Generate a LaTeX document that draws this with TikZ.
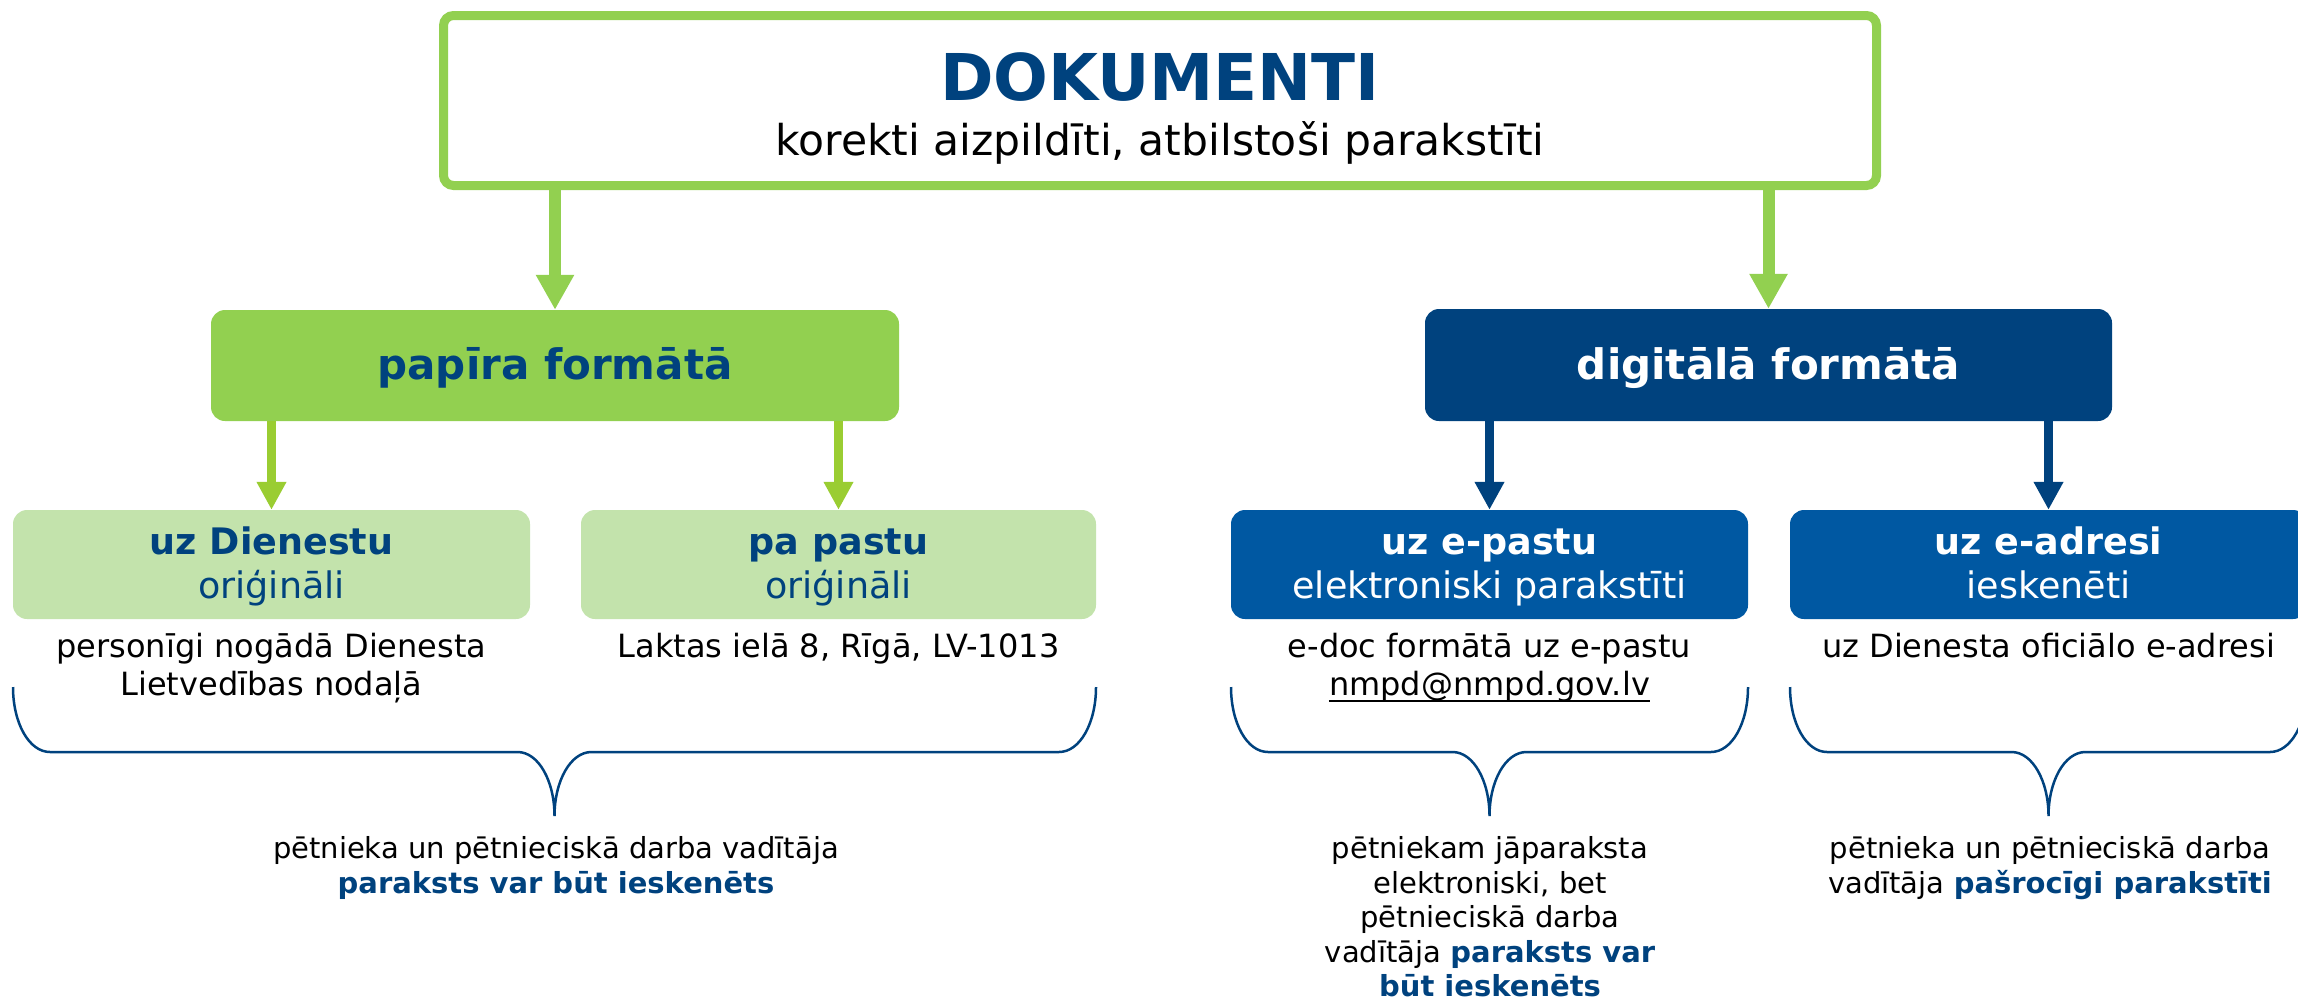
\documentclass[tikz,border=0pt]{standalone}
\usepackage{fontspec}
\setmainfont{DejaVu Sans}
\usetikzlibrary{arrows.meta}
\definecolor{dblue}{HTML}{00427E}
\definecolor{mblue}{HTML}{0058A2}
\definecolor{lgreen}{HTML}{92D050}
\definecolor{pgreen}{HTML}{C3E3AC}
\definecolor{agreen}{HTML}{9ACD32}
\newcommand{\curlyb}[2]{%
  \pgfmathsetmacro{\mx}{(#1+#2)/2}%
  \draw[brc] (#1,687) .. controls (#1,723) and ({#1+16},752) .. ({#1+37},752)
    -- ({\mx-37},752) .. controls ({\mx-16},752) and (\mx,781) .. (\mx,816)
    .. controls (\mx,781) and ({\mx+16},752) .. ({\mx+37},752)
    -- ({#2-37},752) .. controls ({#2-16},752) and (#2,723) .. (#2,687);%
}
\begin{document}
\begin{tikzpicture}[x=1pt,y=-1pt,
  lbl/.style={inner sep=0pt, anchor=base},
  bigfont/.style={font=\fontsize{64.5}{77}\selectfont\bfseries},
  subfont/.style={font=\fontsize{42.5}{51}\selectfont},
  hfont/.style={font=\fontsize{42}{50}\selectfont\bfseries},
  bfont/.style={font=\fontsize{36.5}{44}\selectfont\bfseries},
  rfont/.style={font=\fontsize{36.5}{44}\selectfont},
  ufont/.style={font=\fontsize{32}{38}\selectfont},
  sfont/.style={font=\fontsize{29}{35}\selectfont},
  topbox/.style={draw=lgreen, line width=9pt, rounded corners=10pt, inner sep=0pt,
    minimum width=1433pt, minimum height=170pt, fill=white},
  box/.style={rounded corners=14pt, inner sep=0pt, draw=none},
  box2/.style={box, minimum width=517pt, minimum height=109pt},
  bigarrow/.style={draw=lgreen, line width=12pt, -{Triangle[length=35pt,width=36pt]}},
  garrow/.style={draw=agreen, line width=9pt, -{Triangle[length=28pt,width=28pt]}},
  barrow/.style={draw=dblue, line width=9pt, -{Triangle[length=28pt,width=28pt]}},
  brc/.style={draw=dblue, line width=2.5pt}
]
\useasboundingbox (0,0) rectangle (2298,1002);
\clip (0,0) rectangle (2298,1002);

% top box
\node[topbox] (top) at (1160,100.5) {};
\node[lbl, bigfont, text=dblue] (t1) at (1160,100) {DOKUMENTI};
\node[lbl, subfont] (t2) at (1160,155) {korekti aizpildīti, atbilstoši parakstīti};

% level 1
\node[box, fill=lgreen, minimum width=688pt, minimum height=111pt] (pap) at (555,365.5) {};
\node[lbl, hfont, text=dblue] (papt) at (555,379) {papīra formātā};
\node[box, fill=dblue, minimum width=687pt, minimum height=112pt] (dig) at (1768.5,365) {};
\node[lbl, hfont, text=white] (digt) at (1768.5,379) {digitālā formātā};

% level 2
\node[box2, fill=pgreen] (dien) at (271.5,564.5) {};
\node[box2, fill=pgreen, minimum width=515pt] (pasts) at (838.5,564.5) {};
\node[box2, fill=mblue] (epasts) at (1489.5,564.5) {};
\node[box2, fill=mblue] (eadr) at (2048.5,564.5) {};

\node[lbl, bfont, text=dblue] (d1) at (271.5,554) {uz Dienestu};
\node[lbl, rfont, text=dblue] (d2) at (271.5,598) {oriģināli};
\node[lbl, bfont, text=dblue] (p1) at (838.5,554) {pa pastu};
\node[lbl, rfont, text=dblue] (p2) at (838.5,598) {oriģināli};
\node[lbl, bfont, text=white] (e1) at (1489.5,554) {uz e-pastu};
\node[lbl, rfont, text=white] (e2) at (1489.5,598) {elektroniski parakstīti};
\node[lbl, bfont, text=white] (a1) at (2048.5,554) {uz e-adresi};
\node[lbl, rfont, text=white] (a2) at (2048.5,598) {ieskenēti};

% arrows
\draw[bigarrow] (top.south -| pap.north) -- (pap.north);
\draw[bigarrow] (top.south -| dig.north) -- (dig.north);
\draw[garrow] (pap.south -| dien.north) -- (dien.north);
\draw[garrow] (pap.south -| pasts.north) -- (pasts.north);
\draw[barrow] (dig.south -| epasts.north) -- (epasts.north);
\draw[barrow] (dig.south -| eadr.north) -- (eadr.north);

% text under boxes
\node[lbl, ufont] (u1) at (271.5,657) {personīgi nogādā Dienesta};
\node[lbl, ufont] (u2) at (271.5,695) {Lietvedības nodaļā};
\node[lbl, ufont] (u3) at (838.5,657) {Laktas ielā 8, Rīgā, LV-1013};
\node[lbl, ufont] (u4) at (1489.5,657) {e-doc formātā uz e-pastu};
\node[lbl, ufont] (mail) at (1489.5,695) {nmpd@nmpd.gov.lv};
\draw[line width=2pt] ([yshift=-6pt]mail.base west) -- ([yshift=-6pt]mail.base east);
\node[lbl, ufont] (u6) at (2048.5,657) {uz Dienesta oficiālo e-adresi};

% braces
\curlyb{13}{1096}
\curlyb{1231}{1748}
\curlyb{1790}{2307}

% bottom texts
\node[lbl, sfont] (l1) at (556,858.5) {pētnieka un pētnieciskā darba vadītāja};
\node[lbl, sfont, text=dblue] (l2) at (556,893) {\bfseries paraksts var būt ieskenēts};

\node[lbl, sfont] (m1) at (1490,858.5) {pētniekam jāparaksta};
\node[lbl, sfont] (m2) at (1490,893) {elektroniski, bet};
\node[lbl, sfont] (m3) at (1490,927.5) {pētnieciskā darba};
\node[lbl, sfont] (m4) at (1490,962) {vadītāja \textcolor{dblue}{\bfseries paraksts var}};
\node[lbl, sfont, text=dblue] (m5) at (1490,996.5) {\bfseries būt ieskenēts};

\node[lbl, sfont] (r1) at (2050,858.5) {pētnieka un pētnieciskā darba};
\node[lbl, sfont] (r2) at (2050,893) {vadītāja \textcolor{dblue}{\bfseries pašrocīgi parakstīti}};
\end{tikzpicture}
\end{document}
